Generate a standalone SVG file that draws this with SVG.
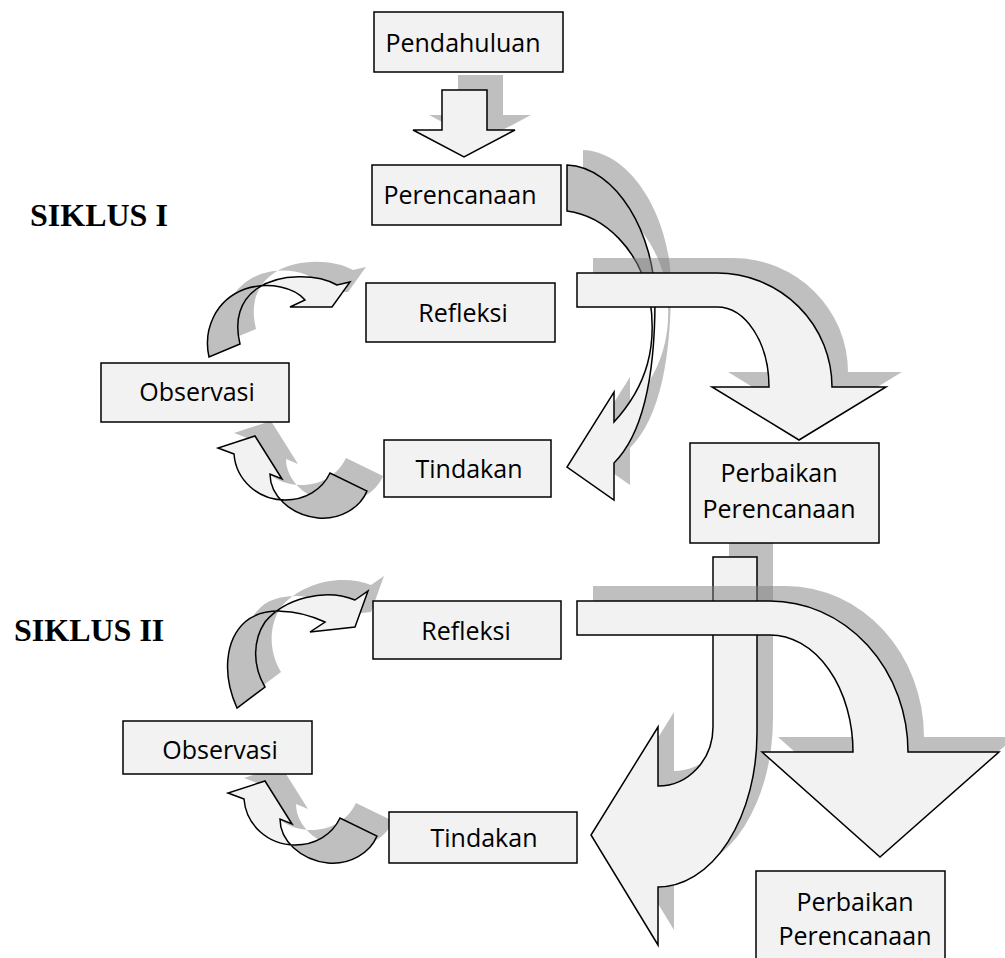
<svg xmlns="http://www.w3.org/2000/svg" xmlns:xlink="http://www.w3.org/1999/xlink" width="1005" height="958" viewBox="0 0 1005 958">
<style>
.box{fill:#f2f2f2;stroke:#000;stroke-width:1.5}
.lbl{font-family:"Open Sans","Liberation Sans",sans-serif;font-size:25px;fill:#000;text-anchor:middle}
.title{font-family:"Liberation Serif",serif;font-size:32px;font-weight:bold;fill:#000}
.shd{fill:#808080;fill-opacity:.5;stroke:none}
.face{fill:#f2f2f2;stroke:none}
.back{fill:#bfbfbf;stroke:none}
.edge{fill:none;stroke:#000;stroke-width:1.5}
.arw{fill:#f2f2f2;stroke:#000;stroke-width:1.5}
</style>
<defs>
  <!-- arrow outlines -->
  <path id="down" d="M442,90 H487 V130 H515 L464,157 L413,130 H442 Z"/>
  <path id="curve1" d="M567,165 C617,167 655,235 655,300 C655,370 645,432 614,463 L614,500 L567,467 L614,392 L614,422 C648,385 657,345 650,300 C640,250 605,216 567,211 Z"/>
  <path id="bent1" d="M577,273 H717 A115,114 0 0 1 832,387 H886 L799,440 L712,387 H769 A52,80 0 0 0 717,307 H577 Z"/>
  <path id="up1" d="M209,357 C203,330 215,300 245,289 C270,281 295,288 305,300 L290,307 L332,307 L350,282 L337,285 C318,274 280,273 258,288 C240,300 234,320 240,344 Z"/>
  <path id="dn1" d="M234,454 L218,448 L255,436 L282,479 L270,474 C270,495 290,515 318,518 C340,520 360,508 367,491 L330,473 C322,490 305,500 285,500 C258,500 236,480 234,454 Z"/>
  <path id="jturn" d="M713,557 H757 V733 A99,154 0 0 1 658,887 V945 L591,835 L658,727 V786 A55,59 0 0 0 713,727 Z"/>
  <path id="bent2" d="M577,601 H770 A138,151 0 0 1 908,752 H999 L880,857 L762,752 H853 A83,117 0 0 0 770,635 H577 Z"/>
  <path id="up2" d="M237,708 C222,675 225,640 245,622 C262,607 295,608 325,622 L310,632 L355,627 L368,591 L355,600 C325,588 285,598 265,622 C253,640 252,665 265,687 Z"/>
  <!-- regions showing the turned-over side of the twisted ribbons -->
  <clipPath id="cTop" clipPathUnits="userSpaceOnUse"><rect x="0" y="0" width="1005" height="290"/></clipPath>
  <clipPath id="cLeft262" clipPathUnits="userSpaceOnUse"><rect x="0" y="0" width="262" height="958"/></clipPath>
  <clipPath id="cRight280" clipPathUnits="userSpaceOnUse"><rect x="280" y="0" width="725" height="958"/></clipPath>
  <clipPath id="cLeft274" clipPathUnits="userSpaceOnUse"><rect x="0" y="0" width="274" height="958"/></clipPath>
</defs>

<rect width="1005" height="958" fill="#fff"/>

<g id="connectors">
  <!-- Pendahuluan to Perencanaan -->
  <use xlink:href="#down" class="shd" transform="translate(16,-15)"/>
  <use xlink:href="#down" class="arw"/>

  <!-- curved arrow from Perencanaan down to Tindakan -->
  <use xlink:href="#curve1" class="shd" transform="translate(16,-15)"/>
  <use xlink:href="#curve1" class="face"/>
  <use xlink:href="#curve1" class="back" clip-path="url(#cTop)"/>
  <use xlink:href="#curve1" class="edge"/>

  <!-- Refleksi to Perbaikan Perencanaan (cycle I) -->
  <use xlink:href="#bent1" class="shd" transform="translate(16,-15)"/>
  <use xlink:href="#bent1" class="arw"/>

  <!-- Observasi to Refleksi (cycle I) -->
  <use xlink:href="#up1" class="shd" transform="translate(16,-15)"/>
  <use xlink:href="#up1" class="face"/>
  <use xlink:href="#up1" class="back" clip-path="url(#cLeft262)"/>
  <use xlink:href="#up1" class="edge"/>

  <!-- Tindakan to Observasi (cycle I) -->
  <use xlink:href="#dn1" class="shd" transform="translate(16,-15)"/>
  <use xlink:href="#dn1" class="face"/>
  <use xlink:href="#dn1" class="back" clip-path="url(#cRight280)"/>
  <use xlink:href="#dn1" class="edge"/>

  <!-- Perbaikan Perencanaan down to Tindakan (cycle II) -->
  <use xlink:href="#jturn" class="shd" transform="translate(16,-15)"/>
  <use xlink:href="#jturn" class="arw"/>

  <!-- Refleksi to Perbaikan Perencanaan (cycle II) -->
  <use xlink:href="#bent2" class="shd" transform="translate(16,-15)"/>
  <use xlink:href="#bent2" class="arw"/>

  <!-- Observasi to Refleksi (cycle II) -->
  <use xlink:href="#up2" class="shd" transform="translate(16,-15)"/>
  <use xlink:href="#up2" class="face"/>
  <use xlink:href="#up2" class="back" clip-path="url(#cLeft274)"/>
  <use xlink:href="#up2" class="edge"/>

  <!-- Tindakan to Observasi (cycle II) -->
  <g transform="translate(10,345)">
    <use xlink:href="#dn1" class="shd" transform="translate(16,-15)"/>
    <use xlink:href="#dn1" class="face"/>
    <use xlink:href="#dn1" class="back" clip-path="url(#cRight280)"/>
    <use xlink:href="#dn1" class="edge"/>
  </g>
</g>

<g id="siklus1-title"><text class="title" x="30" y="226">SIKLUS I</text></g>
<g id="siklus2-title"><text class="title" x="14" y="641">SIKLUS II</text></g>

<g id="pendahuluan">
  <rect class="box" x="374" y="12" width="189" height="60"/>
  <text class="lbl" x="463" y="52">Pendahuluan</text>
</g>
<g id="perencanaan">
  <rect class="box" x="372" y="165" width="189" height="60"/>
  <text class="lbl" x="460" y="204">Perencanaan</text>
</g>
<g id="refleksi1">
  <rect class="box" x="366" y="283" width="189" height="59"/>
  <text class="lbl" x="463" y="322">Refleksi</text>
</g>
<g id="observasi1">
  <rect class="box" x="101" y="363" width="188" height="59"/>
  <text class="lbl" x="197" y="401">Observasi</text>
</g>
<g id="tindakan1">
  <rect class="box" x="384" y="440" width="167" height="57"/>
  <text class="lbl" x="469" y="478">Tindakan</text>
</g>
<g id="perbaikan1">
  <rect class="box" x="690" y="443" width="189" height="100"/>
  <text class="lbl" x="779" y="482">Perbaikan</text>
  <text class="lbl" x="779" y="518">Perencanaan</text>
</g>
<g id="refleksi2">
  <rect class="box" x="373" y="601" width="188" height="58"/>
  <text class="lbl" x="466" y="640">Refleksi</text>
</g>
<g id="observasi2">
  <rect class="box" x="123" y="721" width="189" height="53"/>
  <text class="lbl" x="220" y="759">Observasi</text>
</g>
<g id="tindakan2">
  <rect class="box" x="389" y="812" width="188" height="51"/>
  <text class="lbl" x="484" y="847">Tindakan</text>
</g>
<g id="perbaikan2">
  <rect class="box" x="756" y="871" width="189" height="100"/>
  <text class="lbl" x="855" y="911">Perbaikan</text>
  <text class="lbl" x="855" y="945">Perencanaan</text>
</g>
</svg>
